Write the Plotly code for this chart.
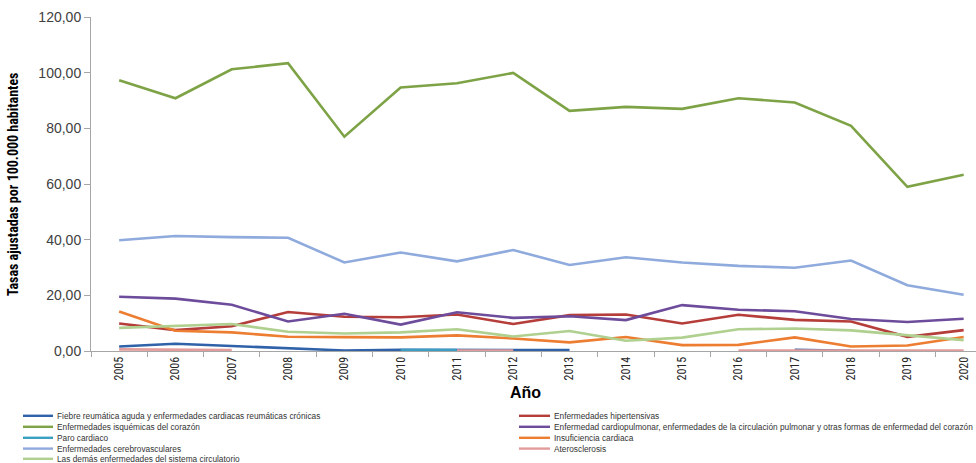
import plotly.graph_objects as go

years = [str(y) for y in range(2005, 2021)]

fiebre = [1.6, 2.6, 1.8, 1.0, 0.2, 0.4, 0.3, 0.2, 0.3, None, None, None, 0.4, 0.1, None, None]
hipertensivas = [9.9, 7.5, 8.9, 14.0, 12.3, 12.1, 13.1, 9.7, 12.9, 13.1, 9.9, 13.0, 11.2, 10.6, 5.1, 7.5]
isquemicas = [97.3, 90.8, 101.2, 103.4, 77.0, 94.7, 96.2, 99.9, 86.3, 87.7, 87.0, 90.8, 89.3, 80.9, 59.0, 63.3]
cardiopulmonar = [19.5, 18.8, 16.6, 10.6, 13.4, 9.5, 13.9, 11.9, 12.5, 11.1, 16.5, 14.8, 14.3, 11.5, 10.4, 11.6]
paro = [None, None, None, None, None, 0.3, 0.3, None, None, None, None, None, None, None, None, None]
insuficiencia = [14.2, 7.3, 6.7, 5.1, 5.0, 4.9, 5.6, 4.5, 3.1, 5.0, 2.1, 2.2, 4.9, 1.6, 2.0, 5.0]
cerebrovasculares = [39.8, 41.3, 40.9, 40.7, 31.8, 35.4, 32.2, 36.3, 30.9, 33.7, 31.8, 30.6, 29.9, 32.5, 23.6, 20.2]
aterosclerosis = [0.6, 0.45, 0.3, None, None, None, 0.2, 0.2, None, None, None, 0.2, 0.2, 0.2, 0.2, 0.2]
demas = [8.3, 9.1, 9.7, 6.9, 6.3, 6.7, 7.8, 5.2, 7.2, 3.7, 4.8, 7.8, 8.1, 7.4, 5.7, 3.9]

names = [
    "Fiebre reumática aguda y enfermedades cardiacas reumáticas crónicas",
    "Enfermedades hipertensivas",
    "Enfermedades isquémicas del corazón",
    "Enfermedad cardiopulmonar, enfermedades de la circulación pulmonar y otras formas de enfermedad del corazón",
    "Paro cardiaco",
    "Insuficiencia cardiaca",
    "Enfermedades cerebrovasculares",
    "Aterosclerosis",
    "Las demás enfermedades del sistema circulatorio",
]
series = [fiebre, hipertensivas, isquemicas, cardiopulmonar, paro, insuficiencia,
          cerebrovasculares, aterosclerosis, demas]
colors = ["#2F62A8", "#B53D3A", "#7EA346", "#6D4C9B", "#3A9FC2", "#EC7D31",
          "#8FAADC", "#E39C9C", "#AFD08F"]

W, H = 976, 463
L, R, T, B = 91, 0, 17, 112
pw, ph = W - L - R, H - T - B

fig = go.Figure()
for nm, vals, col in zip(names, series, colors):
    fig.add_trace(go.Scatter(x=years, y=vals, mode="lines", name=nm,
                             line=dict(color=col, width=2.6), showlegend=False,
                             connectgaps=False))

narrow = "Liberation Sans Narrow, Arial Narrow, Roboto Condensed, Arial, sans-serif"

fig.update_layout(
    width=W, height=H,
    margin=dict(l=L, r=R, t=T, b=B, pad=0),
    paper_bgcolor="white", plot_bgcolor="white",
    separators=",.",
    font=dict(family="Liberation Sans, Arial, sans-serif", color="#404040"),
    xaxis=dict(
        type="category", range=[-0.5, -0.5 + pw / 56.3],
        showgrid=False, showline=True, linecolor="#A6A6A6", linewidth=1,
        ticks="outside", tickson="boundaries", ticklen=5, tickcolor="#A6A6A6",
        tickangle=-90, tickfont=dict(family=narrow, size=12, color="#262626"),
        zeroline=False,
    ),
    yaxis=dict(
        range=[0, 120], dtick=20, tickformat=".2f",
        showgrid=False, showline=True, linecolor="#A6A6A6", linewidth=1,
        ticks="outside", ticklen=6, tickcolor="#A6A6A6",
        tickfont=dict(family="Liberation Sans, Arial, sans-serif", size=14, color="#404040"),
        zeroline=False,
    ),
)

# axis titles
fig.add_annotation(text="<b>Tasas ajustadas por 100.000 habitantes</b>",
                   xref="paper", yref="paper",
                   x=(13 - L) / pw, y=(H - B - 185) / ph,
                   textangle=-90, showarrow=False, xanchor="center", yanchor="middle",
                   font=dict(family=narrow, size=14, color="#000000"))
fig.add_annotation(text="<b>Año</b>", xref="paper", yref="paper",
                   x=(525 - L) / pw, y=(H - B - 392) / ph,
                   showarrow=False, xanchor="center", yanchor="middle",
                   font=dict(family="Liberation Sans, Arial, sans-serif", size=16, color="#000000"))

# manual two-column legend
rows_y = [415.8, 426.8, 437.8, 448.6, 458.8]
for i, (nm, col) in enumerate(zip(names, colors)):
    row, colidx = divmod(i, 2)
    if colidx == 0:
        x0, x1 = 23, 53
    else:
        x0, x1 = 519, 550
    yp = rows_y[row]
    fig.add_shape(type="line", xref="paper", yref="paper",
                  x0=(x0 - L) / pw, x1=(x1 - L) / pw,
                  y0=(H - B - yp) / ph, y1=(H - B - yp) / ph,
                  line=dict(color=col, width=2.4))
    fig.add_annotation(text=nm, xref="paper", yref="paper",
                       x=(x1 + 2 - L) / pw, y=(H - B - yp) / ph,
                       showarrow=False, xanchor="left", yanchor="middle",
                       font=dict(family="Liberation Sans, Arial, sans-serif", size=8.3, color="#333333"))

fig.write_html("out.html", config={"displayModeBar": False},
               post_script="document.body.style.margin='0px';document.body.style.overflow='hidden';")
